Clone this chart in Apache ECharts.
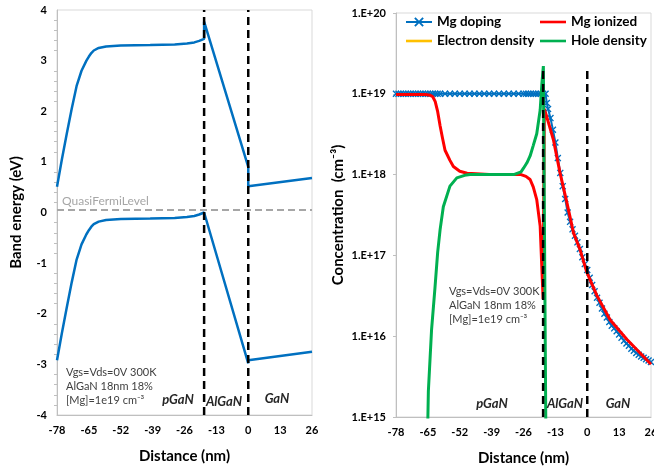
<!DOCTYPE html>
<html>
<head>
    <meta charset="utf-8">
    <title>Band diagram</title>
    <script src="https://cdn.jsdelivr.net/npm/echarts@6/dist/echarts.min.js"></script>
    <style type="text/css">
        * { margin: 0; padding: 0; }
        #main { width: 654px; height: 473px; background: #fff; }
    </style>
</head>
<body>
<div id="main"></div>
<script type="text/javascript">
    // ---- data ----
    var xTicks = [-78, -65, -52, -39, -26, -13, 0, 13, 26];

    // left: band edges (eV)
    var ecX = [-78, -76, -74, -72, -70, -68, -66, -65, -64, -63, -61, -58, -52, -40, -30, -25, -22, -20, -18, -18, 0, 0, 26];
    var ecY = [0.51, 1.05, 1.56, 2.05, 2.5, 2.8, 3.0, 3.08, 3.15, 3.2, 3.25, 3.28, 3.3, 3.31, 3.32, 3.34, 3.36, 3.39, 3.43, 3.77, 0.9, 0.52, 0.68];
    var evX = [-78, -76, -74, -72, -70, -68, -66, -65, -64, -63, -61, -58, -52, -40, -30, -25, -22, -20, -18, -18, 0, 0, 26];
    var evY = [-2.92, -2.38, -1.87, -1.38, -0.93, -0.63, -0.43, -0.35, -0.28, -0.23, -0.18, -0.15, -0.13, -0.12, -0.11, -0.09, -0.07, -0.04, 0.0, -0.02, -2.98, -2.92, -2.75];
    var fermiLevel = 0.05;
    var interfaces = [-18, 0];

    // right: concentrations (cm-3)
    var mgDopX = [-78, -77, -76, -75, -74, -73, -72, -71, -70, -69, -68, -67, -66, -65, -64, -63, -62, -61, -60,
        -58, -56, -54, -52, -50, -48, -46, -44, -42, -40, -38, -36, -34, -32, -30, -28, -26,
        -25, -24, -23, -22, -21, -20, -19, -18, -17,
        -16.5, -16, -15, -14, -13, -12, -11, -10, -9, -8, -7, -6, -5, -4, -3, -2, -1, 0,
        1, 2, 3, 4, 5, 6, 7, 8, 9, 10, 11, 12, 13, 14, 15, 16, 17, 18, 19, 20, 21, 22, 23, 24, 25, 26];
    var mgDopY = [1e19, 1e19, 1e19, 1e19, 1e19, 1e19, 1e19, 1e19, 1e19, 1e19, 1e19, 1e19, 1e19, 1e19, 1e19, 1e19, 1e19, 1e19, 1e19,
        1e19, 1e19, 1e19, 1e19, 1e19, 1e19, 1e19, 1e19, 1e19, 1e19, 1e19, 1e19, 1e19, 1e19, 1e19, 1e19, 1e19,
        1e19, 1e19, 1e19, 1e19, 1e19, 1e19, 1e19, 1e19, 1e19,
        7.7e18, 6.5e18, 5.0e18, 3.6e18, 2.5e18, 1.6e18, 1.05e18, 7.2e17, 5.0e17, 3.4e17, 2.6e17, 2.1e17, 1.75e17, 1.45e17, 1.2e17, 9.5e16, 7.8e16, 6.6e16,
        5.3e16, 4.3e16, 3.6e16, 3.0e16, 2.6e16, 2.2e16, 1.9e16, 1.7e16, 1.5e16, 1.35e16, 1.25e16, 1.15e16, 1.05e16, 9.6e15, 8.8e15, 8.1e15, 7.6e15, 7.0e15, 6.6e15, 6.2e15, 5.9e15, 5.6e15, 5.4e15, 5.2e15, 5.0e15, 4.8e15];

    var mgIonX = [-78, -66, -64, -63, -62, -61, -60, -59, -58, -56, -54.6, -52, -49, -40, -30, -27, -25, -23.3, -22, -20.6, -19.2, -18.6, -18,
        -17.5, -16, -13.8, -11.1, -8.3, -5.6, -2.9, -0.2, 3.9, 9.3, 16.2, 26];
    var mgIonY = [9.8e18, 9.8e18, 9.6e18, 9.2e18, 8e18, 6e18, 4e18, 2.8e18, 2.0e18, 1.5e18, 1.26e18, 1.1e18, 1.04e18, 1.0e18, 1.0e18, 1.0e18, 9.5e17, 8.7e17, 7e17, 4.9e17, 2.3e17, 8e16, 2.9e16,
        6.5e18, 4.6e18, 2.7e18, 1.05e18, 4.5e17, 1.9e17, 1.17e17, 6.2e16, 3.2e16, 1.6e16, 9.1e15, 4.5e15];

    var elecX = [];
    var elecY = [];

    var holeX = [-65.6, -64.8, -63.5, -62.1, -61, -60, -58.7, -56, -53.2, -50, -47.8, -40, -30, -27, -26, -24.6, -23.3, -22, -20.6, -19.2, -18.5, -17.9, -16.7];
    var holeY = [1e14, 2.1e15, 1.2e16, 4e16, 1.1e17, 2.1e17, 4e17, 7.2e17, 9.1e17, 9.8e17, 1.0e18, 1.0e18, 1.0e18, 1.08e18, 1.2e18, 1.4e18, 1.7e18, 2.3e18, 3.2e18, 6.3e18, 1.35e19, 2.2e19, 1e14];

    var dashTop = 2.1e19;

    function pairs(xs, ys) {
        var out = [];
        for (var i = 0; i < xs.length; i++) out.push([xs[i], ys[i]]);
        return out;
    }

    var FONT = 'Lato, "Liberation Sans", sans-serif';
    var blue = '#0070c0', red = '#ff0000', orange = '#ffc000', green = '#00b050';
    var xMark = 'path://M0,1.4L1.4,0L5,3.6L8.6,0L10,1.4L6.4,5L10,8.6L8.6,10L5,6.4L1.4,10L0,8.6L3.6,5Z';
    var lineIcon = 'path://M0,0H30V3H0Z';

    var myChart = echarts.init(document.getElementById('main'));

    var axisLabelStyle = { fontFamily: FONT, fontWeight: 'bold', fontSize: 11, color: '#000' };
    var axisNameStyle = { fontFamily: FONT, fontWeight: 'bold', fontSize: 15, color: '#000' };
    var greyLine = { show: true, onZero: false, lineStyle: { color: '#bfbfbf', width: 1 } };

    function xAxisFor(idx) {
        return {
            type: 'value', gridIndex: idx, min: -78, max: 26, interval: 13,
            axisLine: greyLine,
            axisTick: { show: false },
            splitLine: { show: false },
            axisLabel: Object.assign({ margin: 10 }, axisLabelStyle),
            name: 'Distance (nm)', nameLocation: 'middle', nameGap: 34,
            nameTextStyle: axisNameStyle
        };
    }

    function vLine(xv, y0, y1, xi, yi) {
        return {
            type: 'line', xAxisIndex: xi, yAxisIndex: yi, data: [[xv, y0], [xv, y1]],
            symbol: 'none', silent: true, z: 10,
            lineStyle: { color: '#000', width: 2.5, type: [8, 5] }
        };
    }

    var texts = [];
    function addText(t, x, y, opt) {
        texts.push({
            type: 'text', x: x, y: y, silent: true, z: 20,
            style: Object.assign({ text: t, fill: '#404040', font: '11px ' + FONT, verticalAlign: 'middle' }, opt || {})
        });
    }
    // left panel
    addText('QuasiFermiLevel', 62, 201, { fill: '#a6a6a6', font: '12px ' + FONT });
    addText('Vgs=Vds=0V 300K', 66, 372);
    addText('AlGaN 18nm 18%', 66, 386);
    addText('[Mg]=1e19 cm\u207B\u00B3', 66, 400);
    addText('pGaN', 178, 400, { align: 'center', fill: '#262626', font: 'italic bold 13px ' + FONT });
    addText('AlGaN', 224, 402, { align: 'center', fill: '#262626', font: 'italic bold 13px ' + FONT });
    addText('GaN', 277, 399, { align: 'center', fill: '#262626', font: 'italic bold 13px ' + FONT });
    // right panel
    addText('Vgs=Vds=0V 300K', 449, 291);
    addText('AlGaN 18nm 18%', 449, 305.5);
    addText('[Mg]=1e19 cm\u207B\u00B3', 449, 319);
    addText('pGaN', 492, 404, { align: 'center', fill: '#262626', font: 'italic bold 13px ' + FONT });
    addText('AlGaN', 565, 404, { align: 'center', fill: '#262626', font: 'italic bold 13px ' + FONT });
    addText('GaN', 618, 404, { align: 'center', fill: '#262626', font: 'italic bold 13px ' + FONT });

    var legendText = { fontFamily: FONT, fontWeight: 'bold', fontSize: 13.5, color: '#000' };

    var option = {
        animation: false,
        backgroundColor: '#fff',
        grid: [
            { left: 57, top: 10, width: 255, height: 405, show: true, borderColor: '#d9d9d9', borderWidth: 1,
              containLabel: false, outerBoundsMode: 'none' },
            { left: 396, top: 13, width: 255, height: 404, show: true, borderColor: '#d9d9d9', borderWidth: 1,
              containLabel: false, outerBoundsMode: 'none' }
        ],
        legend: [
            { left: 405, top: 15, padding: 0, orient: 'vertical', itemWidth: 26, itemHeight: 12, itemGap: 5,
              data: ['Mg doping', { name: 'Electron density', icon: lineIcon }], textStyle: legendText },
            { left: 540, top: 15, padding: 0, orient: 'vertical', itemWidth: 26, itemHeight: 12, itemGap: 5,
              data: [{ name: 'Mg ionized', icon: lineIcon }, { name: 'Hole density', icon: lineIcon }], textStyle: legendText }
        ],
        xAxis: [xAxisFor(0), xAxisFor(1)],
        yAxis: [
            {
                type: 'value', gridIndex: 0, min: -4, max: 4, interval: 1,
                axisLine: greyLine,
                axisTick: { show: false },
                minorTick: { show: true, splitNumber: 5, length: 3, lineStyle: { color: '#bfbfbf' } },
                splitLine: { show: false },
                axisLabel: Object.assign({ margin: 10 }, axisLabelStyle),
                name: 'Band energy (eV)', nameLocation: 'middle', nameGap: 33,
                nameTextStyle: axisNameStyle
            },
            {
                type: 'log', gridIndex: 1, min: 1e15, max: 1e20, logBase: 10,
                axisLine: greyLine,
                axisTick: { show: true, length: 3, inside: false, lineStyle: { color: '#bfbfbf' } },
                splitLine: { show: false },
                axisLabel: Object.assign({
                    margin: 10,
                    formatter: function (v) { return '1.E+' + Math.round(Math.log10(v)); }
                }, axisLabelStyle),
                name: 'Concentration  (cm\u207B\u00B3)', nameLocation: 'middle', nameGap: 50,
                nameTextStyle: axisNameStyle
            }
        ],
        graphic: texts,
        series: [
            // left panel
            {
                type: 'line', xAxisIndex: 0, yAxisIndex: 0, data: [[-78, fermiLevel], [26, fermiLevel]],
                symbol: 'none', silent: true, z: 3,
                lineStyle: { color: '#a6a6a6', width: 2, type: [7, 4] }
            },
            {
                name: 'Ec', type: 'line', xAxisIndex: 0, yAxisIndex: 0, data: pairs(ecX, ecY),
                symbol: 'none', lineStyle: { color: blue, width: 2.5 }, z: 4
            },
            {
                name: 'Ev', type: 'line', xAxisIndex: 0, yAxisIndex: 0, data: pairs(evX, evY),
                symbol: 'none', lineStyle: { color: blue, width: 2.5 }, z: 4
            },
            vLine(interfaces[0], -4, 4, 0, 0),
            vLine(interfaces[1], -4, 4, 0, 0),

            // right panel
            {
                name: 'Mg doping', type: 'line', xAxisIndex: 1, yAxisIndex: 1, data: pairs(mgDopX, mgDopY),
                symbol: xMark, symbolSize: 7, showSymbol: true,
                itemStyle: { color: blue }, lineStyle: { color: blue, width: 2 }, z: 3
            },
            {
                name: 'Electron density', type: 'line', xAxisIndex: 1, yAxisIndex: 1, data: pairs(elecX, elecY),
                symbol: 'none', itemStyle: { color: orange }, lineStyle: { color: orange, width: 3 }, z: 4
            },
            {
                name: 'Mg ionized', type: 'line', xAxisIndex: 1, yAxisIndex: 1, data: pairs(mgIonX, mgIonY),
                symbol: 'none', itemStyle: { color: red }, lineStyle: { color: red, width: 3 }, z: 5
            },
            {
                name: 'Hole density', type: 'line', xAxisIndex: 1, yAxisIndex: 1, data: pairs(holeX, holeY),
                symbol: 'none', itemStyle: { color: green }, lineStyle: { color: green, width: 3 }, z: 6
            },
            vLine(interfaces[0], 1e15, dashTop, 1, 1),
            vLine(interfaces[1], 1e15, dashTop, 1, 1)
        ]
    };

    myChart.setOption(option);
</script>
</body>
</html>
